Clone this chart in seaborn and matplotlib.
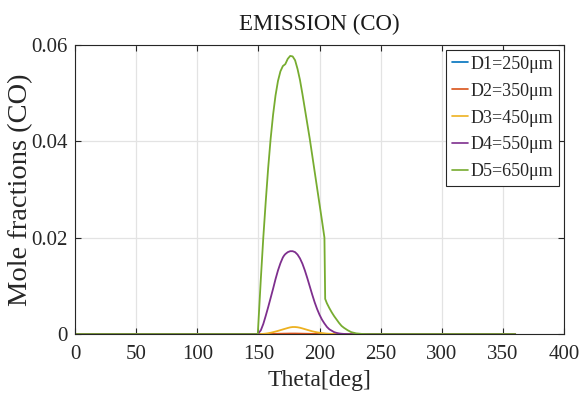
import numpy as np
import pandas as pd
import matplotlib
matplotlib.use("Agg")
import matplotlib.pyplot as plt
import seaborn as sns

# Crank angle grid (deg) shared by all droplet diameters
theta = [0, 148, 149.5, 152, 154, 156, 158, 160, 162, 164,
         166, 168, 170, 171, 172, 174, 176, 178, 180, 182,
         184, 186, 188, 190, 192, 194, 196, 198, 200, 202,
         204, 204.6, 206, 208, 210, 212, 214, 216, 218, 220,
         223, 226, 230, 235, 240, 360]

labels = ["D1=250\u03bcm", "D2=350\u03bcm", "D3=450\u03bcm", "D4=550\u03bcm", "D5=650\u03bcm"]

# CO mole fractions per diameter
co_d1 = [0.0] * 46
co_d2 = [0, 0, 0, 0, 0.00001, 0.00002, 0.00003, 0.00004, 0.00005, 0.00006,
         0.00007, 0.00008, 0.00009, 0.0001, 0.0001, 0.00011, 0.00012, 0.00012, 0.00012, 0.00011,
         0.0001, 0.00009, 0.00008, 0.00007, 0.00006, 0.00005, 0.00004, 0.00003, 0.00002, 0.00002,
         0.00001, 0.00001, 0.00001, 0, 0, 0, 0, 0, 0, 0,
         0, 0, 0, 0, 0, 0]
co_d3 = [0, 0, 0, 0.00002, 0.00005, 0.0001, 0.00018, 0.00028, 0.0004, 0.00053,
         0.00067, 0.00082, 0.00097, 0.00105, 0.00112, 0.00127, 0.0014, 0.00147, 0.00147, 0.00142,
         0.00132, 0.00118, 0.00103, 0.00088, 0.00073, 0.00059, 0.00047, 0.00037, 0.00028, 0.00021,
         0.00015, 0.00013, 0.0001, 0.00007, 0.00005, 0.00003, 0.00002, 0.00001, 0, 0,
         0, 0, 0, 0, 0, 0]
co_d4 = [0, 0, 0, 0.0008, 0.0021, 0.0038, 0.0056, 0.0075, 0.0094, 0.0114,
         0.0132, 0.0147, 0.0159, 0.0163, 0.0166, 0.0170, 0.0172, 0.0172, 0.0170, 0.0165,
         0.0157, 0.0146, 0.0132, 0.0116, 0.0099, 0.0082, 0.0066, 0.0052, 0.0040, 0.0030,
         0.0022, 0.0020, 0.0015, 0.0010, 0.0007, 0.0004, 0.00025, 0.00014, 0.00008, 0.00004,
         0.00001, 0, 0, 0, 0, 0]
co_d5 = [0, 0, 0, 0.0115, 0.0200, 0.0275, 0.0345, 0.0405, 0.0455, 0.0495,
         0.0525, 0.0545, 0.0556, 0.0558, 0.0560, 0.0571, 0.0577, 0.0576, 0.0568, 0.0550,
         0.0527, 0.0498, 0.0467, 0.0436, 0.0405, 0.0371, 0.0337, 0.0303, 0.0269, 0.0235,
         0.0200, 0.0073, 0.0064, 0.0054, 0.0045, 0.0037, 0.0030, 0.0023, 0.0017, 0.0013,
         0.0008, 0.0004, 0.00015, 0.00003, 0, 0]

colors = ["#0072BD", "#D95319", "#EDB120", "#7E2F8E", "#77AC30"]

series = [co_d1, co_d2, co_d3, co_d4, co_d5]
df = pd.concat(
    [pd.DataFrame({"theta": theta, "co": vals, "case": lab}) for lab, vals in zip(labels, series)],
    ignore_index=True,
)

sns.set_theme(style="whitegrid")
plt.rcParams["font.family"] = ["Liberation Serif", "DejaVu Serif"]

fig = plt.figure(figsize=(5.81, 4.04), dpi=100)
ax = fig.add_axes([0.129, 0.173, 0.842, 0.716])

sns.lineplot(data=df, x="theta", y="co", hue="case", palette=colors,
             estimator=None, sort=False, linewidth=1.3, ax=ax)

ax.set_xlim(0, 400)
ax.set_ylim(0, 0.06)
ax.set_xticks(np.arange(0, 401, 50))
ax.set_yticks([0, 0.02, 0.04, 0.06])
ax.set_yticklabels(["0", "0.02", "0.04", "0.06"])

ax.set_facecolor("white")
ax.grid(True, color="#e3e3e3", linewidth=0.9)
for sp in ax.spines.values():
    sp.set_visible(True)
    sp.set_color("#262626")
    sp.set_linewidth(0.8)

ax.tick_params(axis="both", which="both", direction="in", length=4, width=0.8,
               colors="#262626", labelcolor="#262626", labelsize=15,
               top=True, right=True, bottom=True, left=True)
ax.tick_params(axis="x", pad=8)
ax.tick_params(axis="y", pad=5)

ax.set_title("EMISSION (CO)", fontsize=16.5, color="#1a1a1a", pad=11)
ax.set_xlabel("Theta[deg]", fontsize=17, color="#262626", labelpad=4)
ax.set_ylabel("Mole fractions (CO)", fontsize=20.5, color="#262626", labelpad=-1)

leg = ax.legend(loc="upper right", fontsize=13, frameon=True, fancybox=False,
                framealpha=1, edgecolor="#262626", handlelength=0.9,
                handletextpad=0.15, labelspacing=0.55, borderpad=0.3,
                borderaxespad=0.3, title=None)
leg.get_frame().set_linewidth(0.8)
for line in leg.get_lines():
    line.set_linewidth(1.2)

fig.savefig("out.png", dpi=100)
